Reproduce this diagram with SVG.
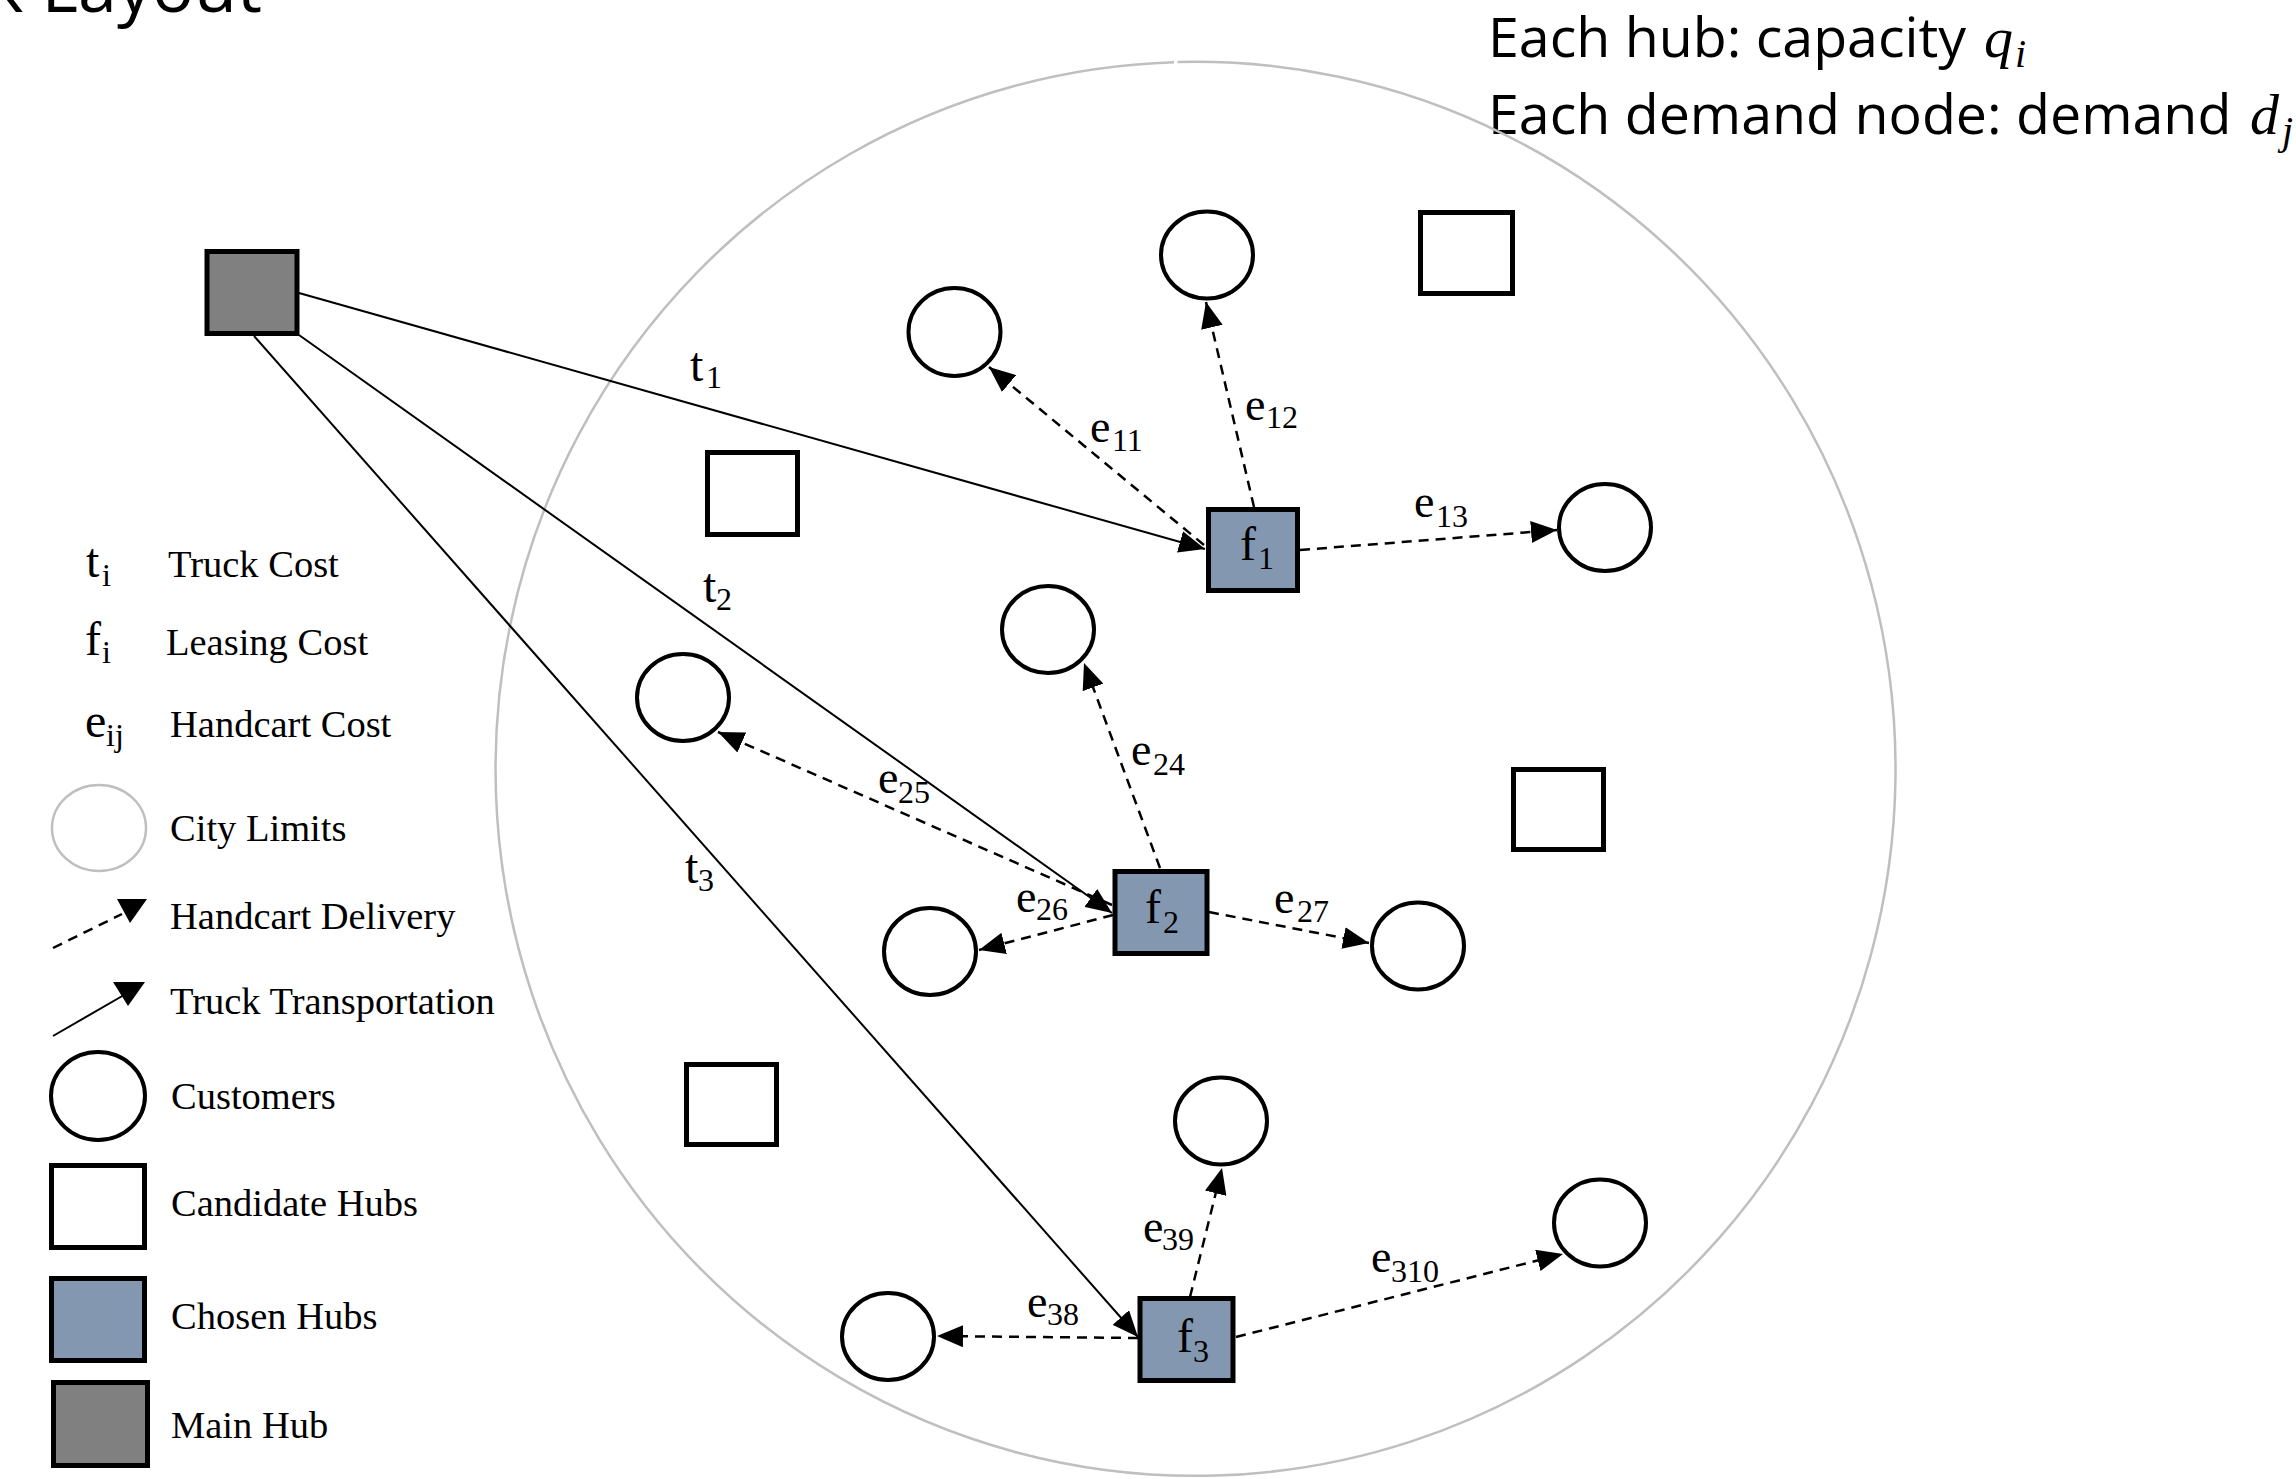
<svg xmlns="http://www.w3.org/2000/svg" width="2296" height="1479" viewBox="0 0 2296 1479">
<defs>
<style>
.city{fill:none;stroke:#bfbfbf;stroke-width:2.5}
.cust{fill:#ffffff;stroke:#000;stroke-width:4}
.cand{fill:#ffffff;stroke:#000;stroke-width:5}
.chosen{fill:#8497b0;stroke:#000;stroke-width:5}
.main{fill:#808080;stroke:#000;stroke-width:5}
.truck{fill:none;stroke:#000;stroke-width:2;marker-end:url(#ah)}
.cart{fill:none;stroke:#000;stroke-width:2.5;stroke-dasharray:10 7;marker-end:url(#ah)}
.serif{font-family:"Liberation Serif","Times New Roman",serif;fill:#000}
.leg{font-size:38.5px}
.sym{font-size:48px}
.elab{font-size:46px}
.sub{font-size:32px}
.sans{font-family:"Open Sans","Noto Sans",sans-serif;fill:#000}
.math{font-family:"Liberation Serif","DejaVu Serif",serif;font-style:italic;fill:#000}
</style>
<marker id="ah" markerUnits="userSpaceOnUse" markerWidth="26" markerHeight="22" refX="26" refY="11" orient="auto">
<path d="M0,0 L26,11 L0,22 z" fill="#000"/>
</marker>
</defs>
<rect width="2296" height="1479" fill="#ffffff"/>

<g id="title">
<text class="sans" x="262" y="12" font-size="70" text-anchor="end">k Layout</text>
</g>

<g id="header">
<text class="sans" x="1488" y="57" font-size="55.5">Each hub: capacity <tspan class="math" x="1984" font-size="58">q</tspan><tspan class="math" x="2015" y="67" font-size="40">i</tspan></text>
<text class="sans" x="1488" y="134" font-size="55.5">Each demand node: demand <tspan class="math" x="2250" font-size="58">d</tspan><tspan class="math" x="2282" y="144" font-size="40">j</tspan></text>
</g>

<g id="city-limits">
<path class="city" d="M1177.5,62.1 A700,707 0 1 1 1174,62.2"/>
</g>

<g id="connectors">
<path class="truck" d="M299,293 L1205,549"/>
<path class="truck" d="M299,335 L1112,913"/>
<path class="truck" d="M254,336 L1138,1337"/>
<path class="cart" d="M1204,545 L989,367"/>
<path class="cart" d="M1254,507 L1206,302"/>
<path class="cart" d="M1300,550 L1557,530"/>
<path class="cart" d="M1160,868 L1084,663"/>
<path class="cart" d="M1112,905 L718,732"/>
<path class="cart" d="M1113,915 L979,950"/>
<path class="cart" d="M1209,912 L1369,943"/>
<path class="cart" d="M1138,1338 L937,1336"/>
<path class="cart" d="M1190,1297 L1222,1168"/>
<path class="cart" d="M1236,1337 L1563,1254"/>
<g id="connector-labels" class="serif">
<text class="sym" x="690" y="381" font-size="44">t<tspan class="sub" x="706" y="388" font-size="30">1</tspan></text>
<text class="sym" x="703" y="602" font-size="44">t<tspan class="sub" x="716" y="610" font-size="30">2</tspan></text>
<text class="sym" x="685" y="883" font-size="44">t<tspan class="sub" x="698" y="891" font-size="30">3</tspan></text>
<text class="elab" x="1090" y="442">e<tspan class="sub" x="1112" y="451">11</tspan></text>
<text class="elab" x="1245" y="420">e<tspan class="sub" x="1266" y="428">12</tspan></text>
<text class="elab" x="1414" y="517">e<tspan class="sub" x="1436" y="527">13</tspan></text>
<text class="elab" x="1131" y="765">e<tspan class="sub" x="1153" y="775">24</tspan></text>
<text class="elab" x="878" y="793">e<tspan class="sub" x="898" y="803">25</tspan></text>
<text class="elab" x="1016" y="912">e<tspan class="sub" x="1036" y="920">26</tspan></text>
<text class="elab" x="1274" y="913">e<tspan class="sub" x="1297" y="922">27</tspan></text>
<text class="elab" x="1027" y="1317">e<tspan class="sub" x="1047" y="1325">38</tspan></text>
<text class="elab" x="1143" y="1242">e<tspan class="sub" x="1162" y="1250">39</tspan></text>
<text class="elab" x="1371" y="1272">e<tspan class="sub" x="1391" y="1282">310</tspan></text>
</g>
</g>

<g id="main-hub"><rect class="main" x="207" y="251.5" width="90" height="82"/></g>

<g id="candidate-hub-1"><rect class="cand" x="707.5" y="452.5" width="90" height="82"/></g>
<g id="candidate-hub-2"><rect class="cand" x="1420.5" y="212.5" width="92" height="81"/></g>
<g id="candidate-hub-3"><rect class="cand" x="1513.5" y="769.5" width="90" height="80"/></g>
<g id="candidate-hub-4"><rect class="cand" x="686.5" y="1064.5" width="90" height="80"/></g>

<g id="hub-f1"><rect class="chosen" x="1208.5" y="509.5" width="89" height="81"/>
<text class="serif sym" x="1240" y="560">f<tspan class="sub" x="1258" y="569">1</tspan></text></g>
<g id="hub-f2"><rect class="chosen" x="1115" y="871.5" width="92" height="82"/>
<text class="serif sym" x="1145" y="923">f<tspan class="sub" x="1163" y="933">2</tspan></text></g>
<g id="hub-f3"><rect class="chosen" x="1140" y="1298.5" width="93" height="82"/>
<text class="serif sym" x="1177" y="1352">f<tspan class="sub" x="1193" y="1362">3</tspan></text></g>

<g id="customer-1"><ellipse class="cust" cx="954.5" cy="332" rx="46" ry="44"/></g>
<g id="customer-2"><ellipse class="cust" cx="1207" cy="255" rx="46" ry="43.5"/></g>
<g id="customer-3"><ellipse class="cust" cx="1605" cy="527.5" rx="46" ry="43.5"/></g>
<g id="customer-4"><ellipse class="cust" cx="1048" cy="629.5" rx="46" ry="43.5"/></g>
<g id="customer-5"><ellipse class="cust" cx="683" cy="697.5" rx="46" ry="43.5"/></g>
<g id="customer-6"><ellipse class="cust" cx="930" cy="951.5" rx="46" ry="43.5"/></g>
<g id="customer-7"><ellipse class="cust" cx="1418" cy="946" rx="46" ry="43.5"/></g>
<g id="customer-8"><ellipse class="cust" cx="888" cy="1336.5" rx="46" ry="43.5"/></g>
<g id="customer-9"><ellipse class="cust" cx="1221" cy="1121" rx="46" ry="43.5"/></g>
<g id="customer-10"><ellipse class="cust" cx="1600" cy="1223" rx="46" ry="43.5"/></g>

<g id="legend" class="serif">
<text class="sym" x="86" y="577" font-size="44">t<tspan class="sub" x="102" y="586" font-size="30">i</tspan></text>
<text class="leg" x="168" y="577">Truck Cost</text>
<text class="sym" x="85" y="655">f<tspan class="sub" x="102" y="663" font-size="30">i</tspan></text>
<text class="leg" x="166" y="655">Leasing Cost</text>
<text class="sym" x="85" y="737">e<tspan class="sub" x="106" y="746" font-size="30">ij</tspan></text>
<text class="leg" x="170" y="737">Handcart Cost</text>
<ellipse class="city" cx="99" cy="828" rx="47" ry="43" stroke-width="2"/>
<text class="leg" x="170" y="841">City Limits</text>
<path d="M53,948 L122,914" fill="none" stroke="#000" stroke-width="2.5" stroke-dasharray="10 7"/>
<polygon points="117,899 147,899 130,923" fill="#000"/>
<text class="leg" x="170" y="929">Handcart Delivery</text>
<path d="M53,1036 L124,995" fill="none" stroke="#000" stroke-width="2"/>
<polygon points="113,982 145,982 128,1006" fill="#000"/>
<text class="leg" x="170" y="1014">Truck Transportation</text>
<ellipse class="cust" cx="98" cy="1096" rx="47" ry="44"/>
<text class="leg" x="171" y="1109">Customers</text>
<rect class="cand" x="51.5" y="1165.5" width="93" height="82"/>
<text class="leg" x="171" y="1216">Candidate Hubs</text>
<rect class="chosen" x="51.5" y="1278.5" width="93" height="82"/>
<text class="leg" x="171" y="1329">Chosen Hubs</text>
<rect class="main" x="53.5" y="1382.5" width="94" height="83"/>
<text class="leg" x="171" y="1438">Main Hub</text>
</g>
</svg>
